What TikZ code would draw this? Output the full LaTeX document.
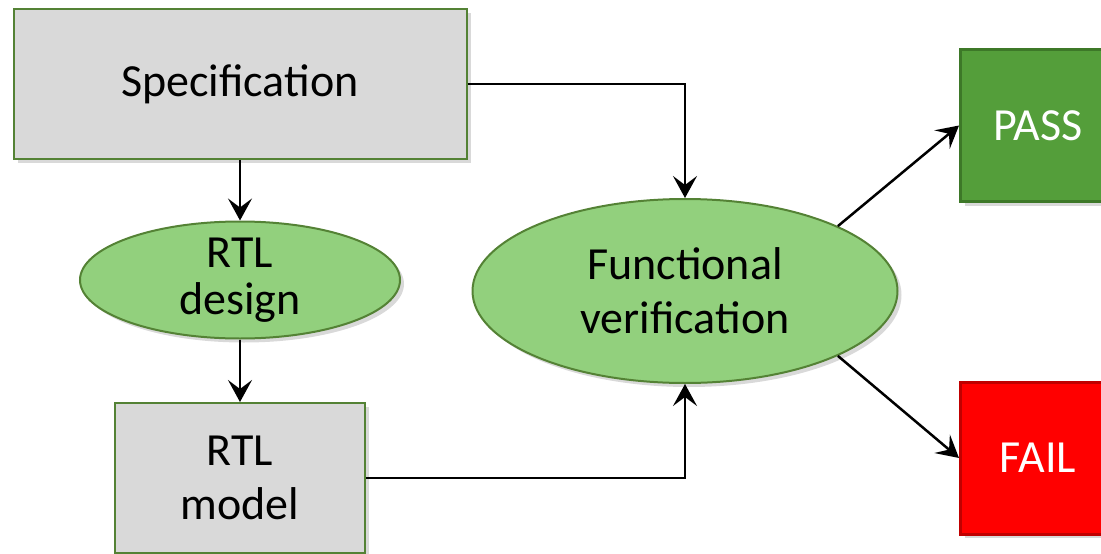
\documentclass[tikz,border=0pt]{standalone}
\usepackage{fontspec}
\setmainfont{Carlito}
\usetikzlibrary{shapes.geometric, arrows.meta, shadows}

\definecolor{boxgray}{RGB}{217,217,217}
\definecolor{edgegreen}{RGB}{84,130,53}
\definecolor{lightgreen}{RGB}{146,208,125}
\definecolor{passgreen}{RGB}{84,158,58}
\definecolor{passedge}{RGB}{61,120,40}
\definecolor{failred}{RGB}{255,0,0}
\definecolor{failedge}{RGB}{192,0,0}

\begin{document}
\begin{tikzpicture}[x=1pt, y=1pt,
        font=\fontsize{46}{54}\selectfont,
        boxshadow/.style={drop shadow={shadow xshift=4pt, shadow yshift=-4pt, opacity=0.3}},
        block/.style={rectangle, draw=edgegreen, fill=boxgray, line width=2pt, boxshadow, align=center},
        blob/.style={ellipse, draw=edgegreen, fill=lightgreen, line width=2pt, boxshadow, align=center, inner sep=0pt},
        result/.style={rectangle, line width=3pt, text=white, minimum width=155pt, minimum height=152pt, boxshadow},
        arr/.style={-{Stealth[length=22pt, width=24pt, inset=9pt]}, line width=2.5pt}]
        \useasboundingbox (0,0) rectangle (1101,-554);

        \node[block, minimum width=453pt, minimum height=150pt] (spec) at (240,-84) {Specification};
        \node[blob, minimum width=320pt, minimum height=117pt,
            label={[align=center, font=\fontsize{46}{47}\selectfont]center:RTL\\design}] (design) at (240,-280) {};
        \node[block, minimum width=250pt, minimum height=150pt] (model) at (240,-478) {RTL\\model};
        \node[blob, minimum width=425pt, minimum height=184pt] (funcver) at (685,-291) {Functional\\verification};

        \node[result, fill=passgreen, draw=passedge] (pass) at (1038,-125.5) {PASS};
        \node[result, fill=failred, draw=failedge] (fail) at (1038,-458) {FAIL};

        \draw[arr] (spec) -- (design);
        \draw[arr] (design) -- (model);
        \draw[arr] (spec.east) -| (funcver.north);
        \draw[arr] (model.east) -| (funcver.south);
        \draw[arr] (funcver.23) -- (pass.west);
        \draw[arr] (funcver.-23) -- (fail.west);
    \end{tikzpicture}
\end{document}
